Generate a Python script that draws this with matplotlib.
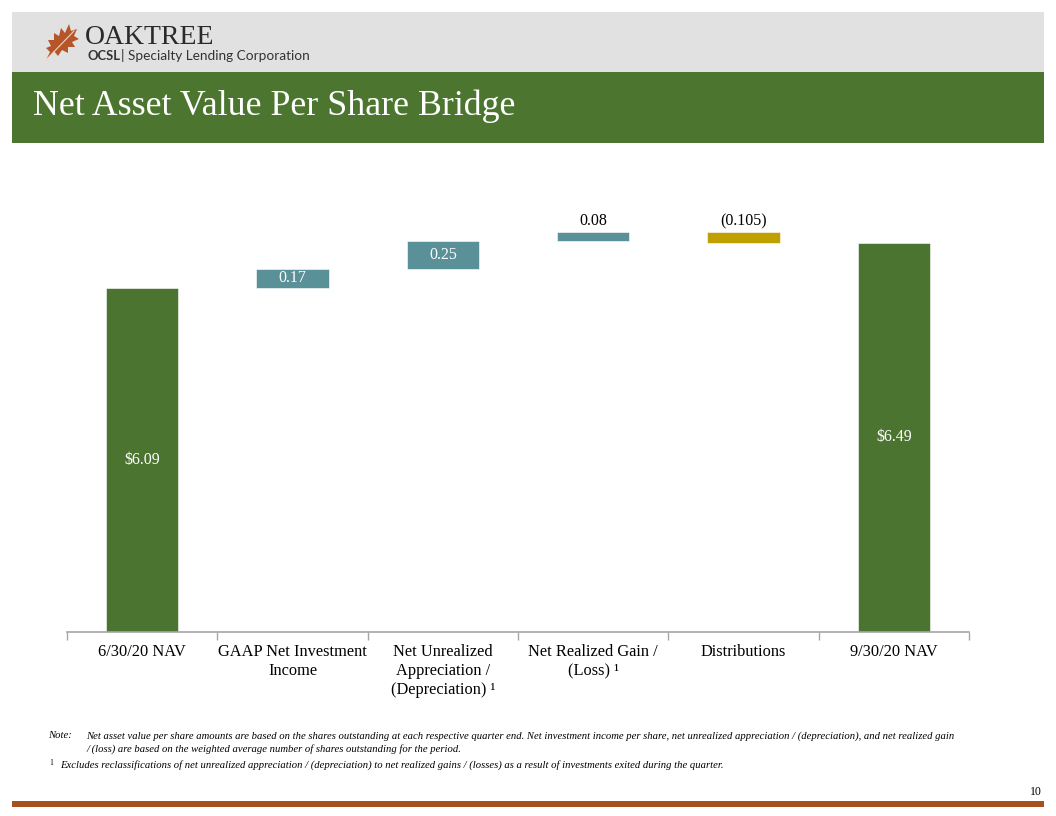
import numpy as np
import matplotlib
matplotlib.use("Agg")
import matplotlib.pyplot as plt
from matplotlib.patches import Rectangle, Polygon

# data
categories = ["6/30/20 NAV", "GAAP Net Investment\nIncome", "Net Unrealized\nAppreciation /\n(Depreciation) \u00b9",
              "Net Realized Gain /\n(Loss) \u00b9", "Distributions", "9/30/20 NAV"]
values = [6.09, 0.17, 0.25, 0.08, -0.105, 6.49]
kinds = ["total", "step", "step", "step", "step", "total"]
bar_labels = ["\\$6.09", "0.17", "0.25", "0.08", "(0.105)", "\\$6.49"]

GREEN = "#4B7430"
TEAL = "#5A9098"
GOLD = "#C09F00"
SERIF = "Liberation Serif"

fig = plt.figure(figsize=(10.56, 8.16), dpi=100)
W, H = 1056, 816

# overlay axes in pixel coordinates for the slide decorations
deco = fig.add_axes([0, 0, 1, 1])
deco.set_xlim(0, W)
deco.set_ylim(H, 0)
deco.axis("off")
deco.add_patch(Rectangle((12, 12), 1032, 60, color="#E1E1E1", lw=0))
deco.add_patch(Rectangle((12, 72), 1032, 71, color="#4C7630", lw=0))
deco.add_patch(Rectangle((12, 801), 1032, 6, color="#A4501F", lw=0))

# oak leaf logo
leaf = np.array([[47, 58], [50, 52], [46, 48], [51, 46], [48, 40], [54, 40], [54, 33],
                 [59, 36], [61, 28], [65, 33], [69, 24], [71, 31], [77, 29], [74, 36],
                 [79, 39], [72, 42], [75, 47], [68, 47], [68, 53], [62, 50], [58, 56],
                 [54, 51], [48, 58]])
deco.add_patch(Polygon(leaf, closed=True, color="#B5562A", lw=0))
deco.plot([46, 74], [60, 31], color="#F2D2C0", lw=0.8)

deco.text(85, 37, "OAKTREE", fontsize=20, family=SERIF, color="#2A2A2A", va="center")
deco.text(87, 56, "OCSL", fontsize=9.4, family="Lato", weight="bold", color="#333333", va="center")
deco.text(121, 56, "| Specialty Lending Corporation", fontsize=9.8, family="Lato", color="#333333", va="center")
deco.text(33, 106, "Net Asset Value Per Share Bridge", fontsize=25.8, family=SERIF, color="white", va="center")

note_kw = dict(fontsize=7.7, family=SERIF, style="italic", va="center")
deco.text(48, 736, "Note:", **note_kw)
deco.text(86, 736, "Net asset value per share amounts are based on the shares outstanding at each respective quarter end. "
          "Net investment income per share, net unrealized appreciation / (depreciation), and net realized gain", **note_kw)
deco.text(86, 749, "/ (loss) are based on the weighted average number of shares outstanding for the period.", **note_kw)
deco.text(49, 763, "1", fontsize=5.5, family=SERIF, va="center")
deco.text(60, 765, "Excludes reclassifications of net unrealized appreciation / (depreciation) to net realized gains / (losses) "
          "as a result of investments exited during the quarter.", **note_kw)
deco.text(1042, 792, "10", fontsize=8.5, family=SERIF, ha="right", va="center")

# chart axes
ax = fig.add_axes([67 / W, 1 - 632 / H, (969 - 67) / W, (632 - 200) / H])
ax.patch.set_alpha(0)

x = np.arange(len(categories))
bottoms, heights, colors = [], [], []
running = 0.0
for v, k in zip(values, kinds):
    if k == "total":
        bottoms.append(0.0)
        heights.append(v)
        colors.append(GREEN)
        running = v
    else:
        if v >= 0:
            bottoms.append(running)
            heights.append(v)
            colors.append(TEAL)
        else:
            bottoms.append(running + v)
            heights.append(-v)
            colors.append(GOLD)
        running += v

bars = ax.bar(x, heights, bottom=bottoms, width=0.48, color=colors, edgecolor="#FFFFFF", linewidth=0.4)

ymin, ymax = 3.03, 6.87
ax.set_ylim(ymin, ymax)
ax.set_xlim(-0.5, len(categories) - 0.5)

for i, (b, h, lab) in enumerate(zip(bottoms, heights, bar_labels)):
    if kinds[i] == "total":
        ax.text(i, (max(b, ymin) + b + h) / 2, lab, ha="center", va="center", color="white", fontsize=11.5, family=SERIF)
    elif h >= 0.15:
        ax.text(i, b + h / 2, lab, ha="center", va="center", color="white", fontsize=11.5, family=SERIF)
    else:
        ax.text(i, b + h + 0.02, lab, ha="center", va="bottom", color="black", fontsize=11.5, family=SERIF)

for s in ["top", "right", "left"]:
    ax.spines[s].set_visible(False)
ax.spines["bottom"].set_color("#A6A6A6")
ax.spines["bottom"].set_linewidth(1.2)
ax.set_yticks([])

ax.set_xticks(np.arange(-0.5, len(categories), 1.0))
ax.set_xticklabels([])
ax.tick_params(axis="x", which="major", length=6, color="#A6A6A6", width=1.0)
ax.set_xticks(x, minor=True)
ax.set_xticklabels(categories, minor=True, fontsize=11.8, family=SERIF, linespacing=1.22)
ax.tick_params(axis="x", which="minor", length=0, pad=9)
for t in ax.get_xticklabels(minor=True):
    t.set_multialignment("center")

fig.savefig("out.png", dpi=100)
